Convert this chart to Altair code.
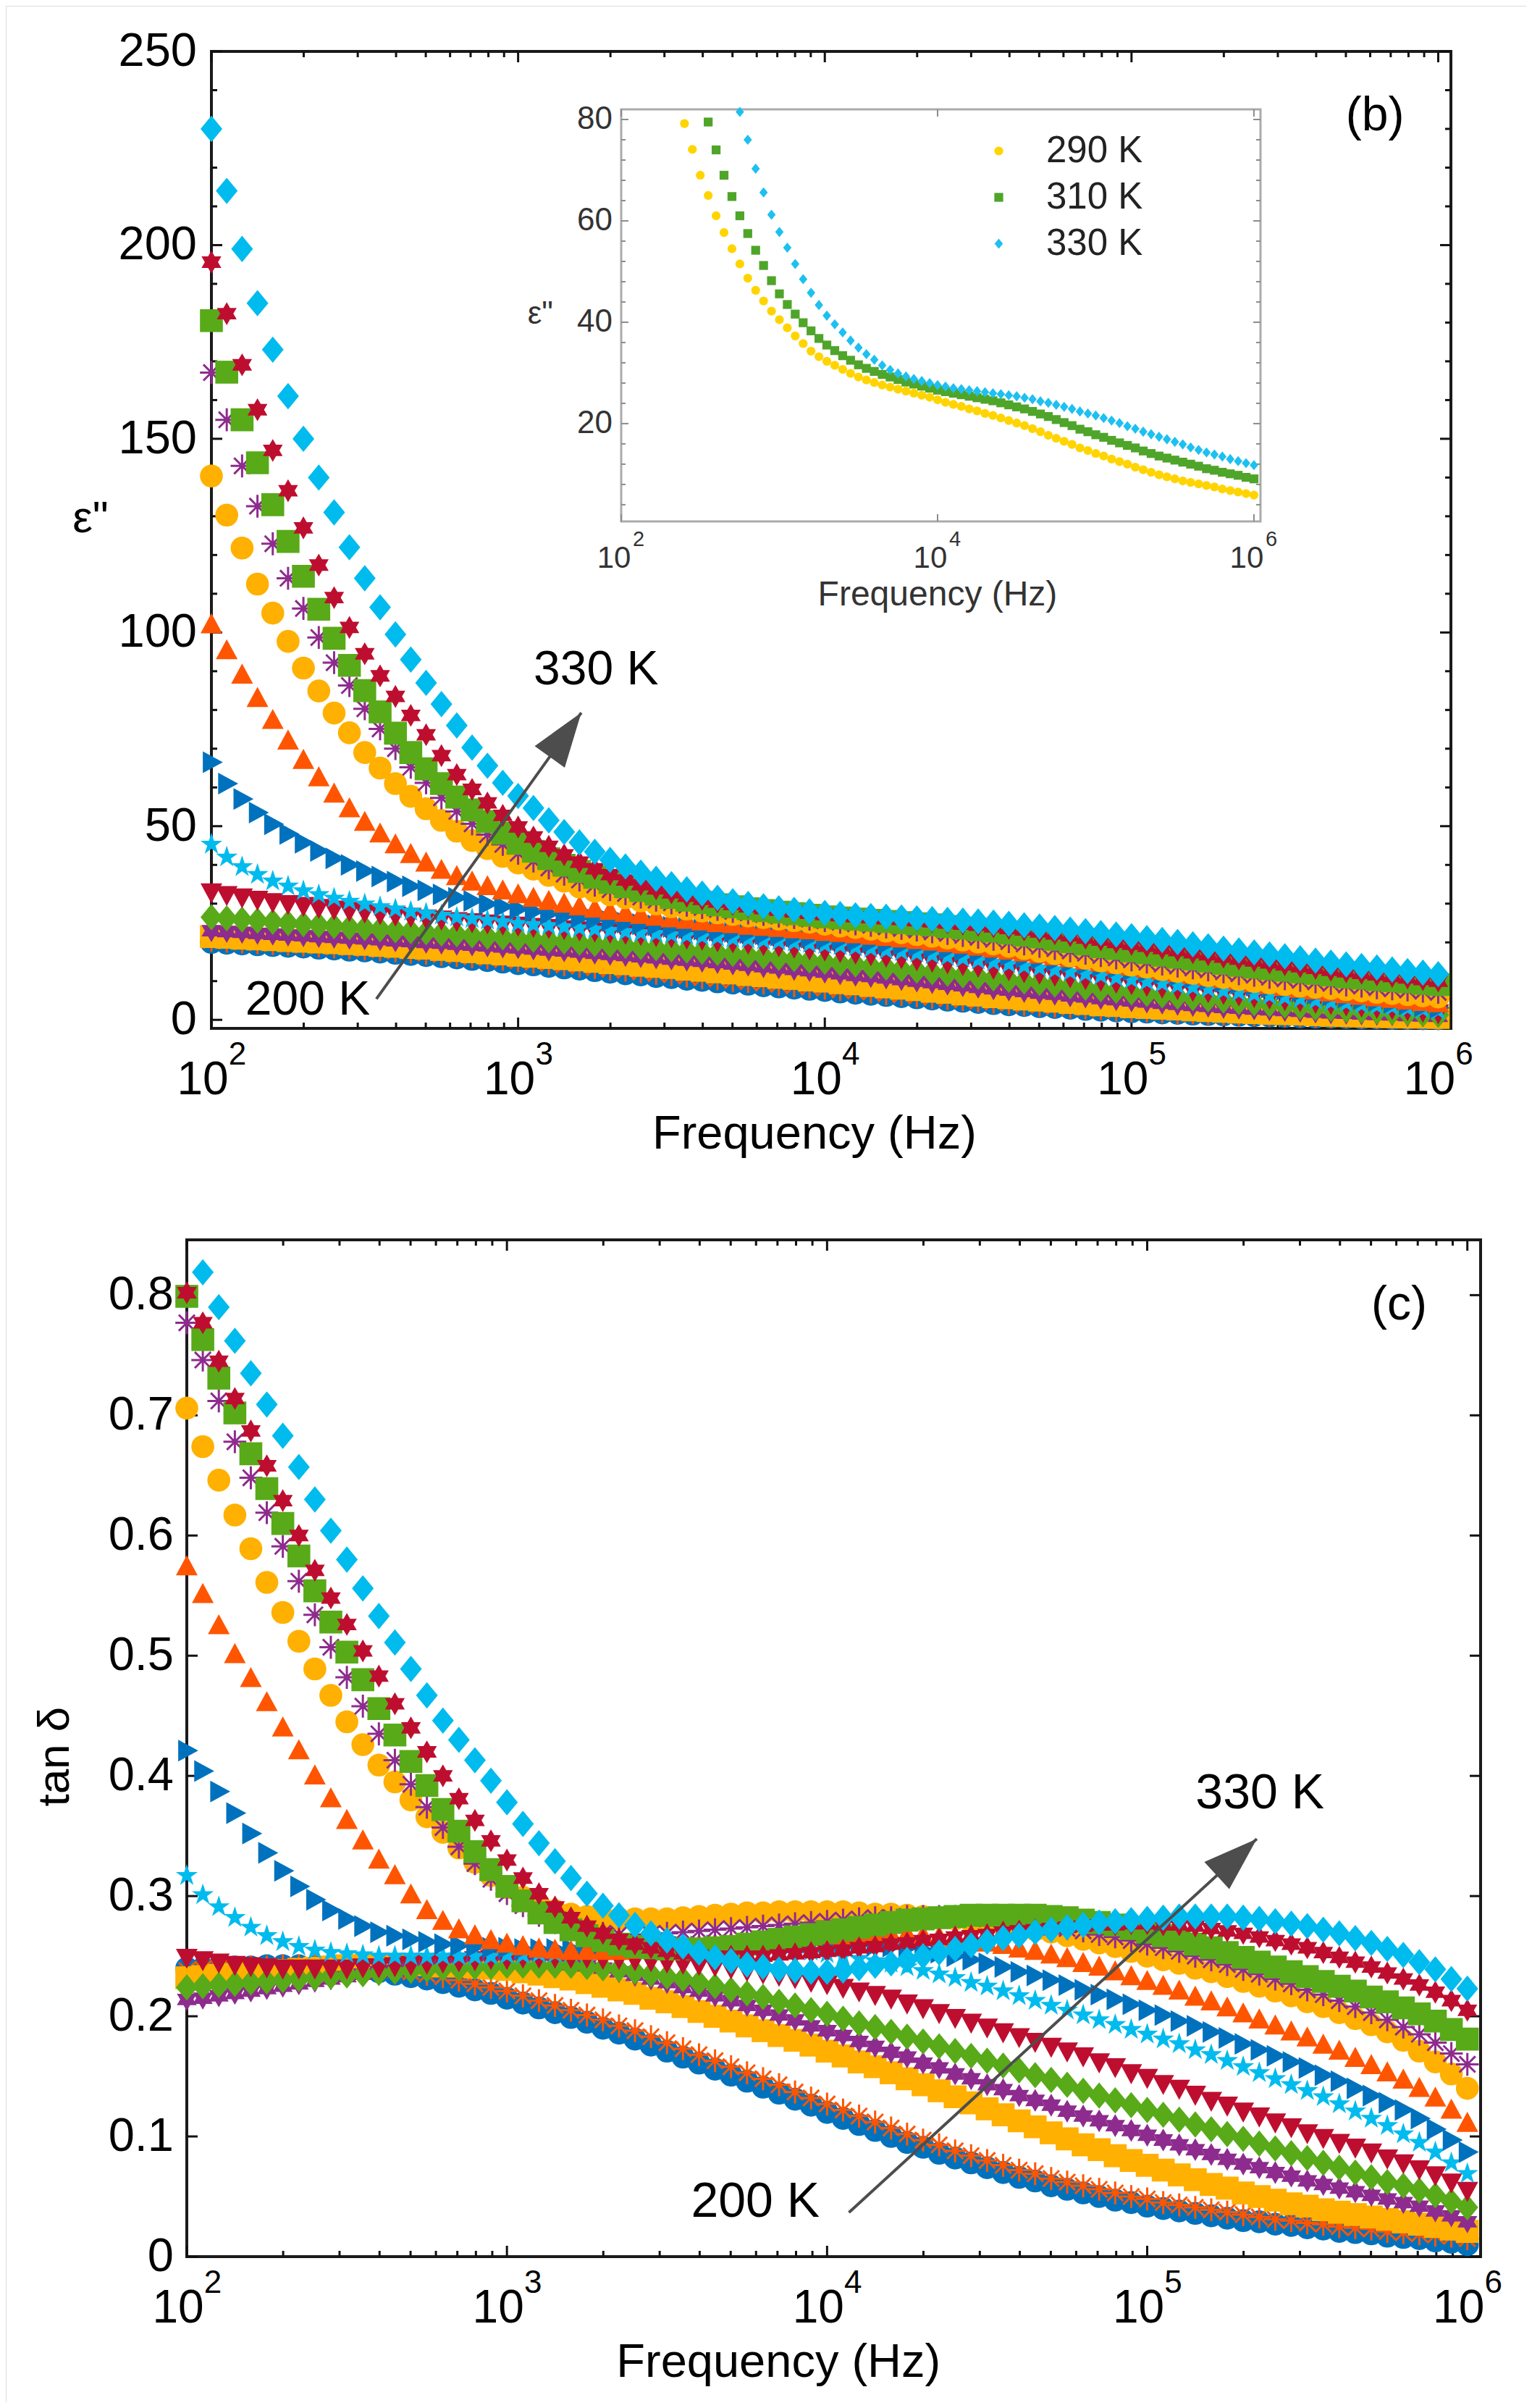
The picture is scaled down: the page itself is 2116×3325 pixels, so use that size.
import altair as alt
import pandas as pd

FONT = "Liberation Sans"

# ---------------- data ----------------
FREQ = [100, 112.2, 125.9, 141.3, 158.5, 177.8, 199.5, 223.9, 251.2, 281.8,
        316.2, 354.8, 398.1, 446.7, 501.2, 562.3, 631.0, 707.9, 794.3, 891.3,
        1000, 1122, 1259, 1413, 1585, 1778, 1995, 2239, 2512, 2818,
        3162, 3548, 3981, 4467, 5012, 5623, 6310, 7079, 7943, 8913,
        10000, 11220, 12590, 14130, 15850, 17780, 19950, 22390, 25120, 28180,
        31620, 35480, 39810, 44670, 50120, 56230, 63100, 70790, 79430, 89130,
        100000, 112200, 125900, 141300, 158500, 177800, 199500, 223900, 251200, 281800,
        316200, 354800, 398100, 446700, 501200, 562300, 631000, 707900, 794300, 891300,
        1000000]

TEMPS = ["200 K", "210 K", "220 K", "230 K", "240 K", "250 K", "260 K",
         "270 K", "280 K", "290 K", "300 K", "310 K", "320 K", "330 K"]

# epsilon'' (panel b)
EPS_200 = [20.0,19.8,19.6,19.4,19.2,19.0,18.8,18.5,18.3,18.0,
           17.8,17.5,17.2,16.9,16.6,16.3,16.0,15.6,15.3,14.9,
           14.5,14.2,13.8,13.4,13.1,12.7,12.3,11.9,11.6,11.2,
           10.9,10.5,10.2,9.8,9.5,9.2,8.8,8.5,8.2,7.9,
           7.6,7.2,6.9,6.6,6.3,6.0,5.7,5.4,5.1,4.8,
           4.5,4.2,3.9,3.7,3.4,3.2,3.0,2.7,2.5,2.3,
           2.1,2.0,1.8,1.7,1.5,1.4,1.3,1.2,1.1,1.0,
           0.9,0.8,0.7,0.7,0.6,0.5,0.5,0.4,0.4,0.3,
           0.3]
EPS_210 = [20.5,20.3,20.1,19.9,19.7,19.5,19.3,19.1,18.8,18.6,
           18.3,18.1,17.8,17.5,17.2,16.9,16.6,16.3,16.0,15.6,
           15.3,14.9,14.6,14.2,13.9,13.5,13.1,12.8,12.4,12.0,
           11.7,11.3,10.9,10.6,10.2,9.9,9.5,9.2,8.8,8.5,
           8.2,7.8,7.5,7.2,6.8,6.5,6.2,5.8,5.5,5.2,
           4.9,4.6,4.3,4.0,3.8,3.5,3.3,3.1,2.8,2.6,
           2.4,2.3,2.1,1.9,1.8,1.6,1.5,1.4,1.3,1.2,
           1.1,1.0,0.9,0.8,0.8,0.7,0.6,0.6,0.5,0.5,
           0.4]
EPS_220 = [21.5,21.3,21.1,20.9,20.7,20.5,20.3,20.1,19.9,19.7,
           19.5,19.2,19.0,18.7,18.5,18.2,17.9,17.6,17.3,17.0,
           16.7,16.4,16.1,15.8,15.5,15.1,14.8,14.5,14.1,13.8,
           13.5,13.1,12.8,12.4,12.1,11.7,11.4,11.0,10.7,10.3,
           10.0,9.6,9.3,8.9,8.5,8.2,7.8,7.4,7.1,6.7,
           6.4,6.0,5.7,5.4,5.1,4.8,4.5,4.2,3.9,3.7,
           3.4,3.2,3.0,2.8,2.6,2.4,2.2,2.0,1.9,1.7,
           1.6,1.5,1.3,1.2,1.1,1.0,0.9,0.8,0.7,0.7,
           0.6]
EPS_230 = [23.0,22.8,22.6,22.3,22.1,21.9,21.7,21.5,21.3,21.1,
           20.9,20.7,20.4,20.2,20.0,19.8,19.5,19.3,19.1,18.8,
           18.6,18.3,18.0,17.8,17.5,17.2,16.9,16.6,16.3,16.0,
           15.7,15.4,15.1,14.8,14.4,14.1,13.7,13.4,13.0,12.7,
           12.3,11.9,11.5,11.2,10.8,10.4,10.0,9.6,9.2,8.8,
           8.4,8.0,7.7,7.3,6.9,6.6,6.2,5.9,5.5,5.2,
           4.9,4.6,4.3,4.0,3.7,3.5,3.2,3.0,2.8,2.6,
           2.4,2.2,2.0,1.8,1.7,1.5,1.4,1.3,1.1,1.0,
           0.9]
EPS_240 = [26.5,26.2,25.9,25.6,25.3,25.0,24.7,24.5,24.2,23.9,
           23.7,23.4,23.1,22.9,22.6,22.3,22.1,21.8,21.5,21.3,
           21.0,20.7,20.5,20.2,19.9,19.6,19.4,19.1,18.8,18.5,
           18.2,17.9,17.6,17.3,17.0,16.7,16.4,16.0,15.7,15.3,
           15.0,14.6,14.3,13.9,13.5,13.1,12.7,12.3,11.9,11.5,
           11.1,10.7,10.3,9.9,9.5,9.1,8.7,8.3,7.9,7.5,
           7.1,6.7,6.3,6.0,5.6,5.3,5.0,4.6,4.3,4.0,
           3.7,3.4,3.1,2.9,2.6,2.4,2.2,2.0,1.8,1.5,
           1.3]
EPS_250 = [33.0,32.3,31.7,31.1,30.5,30.0,29.5,29.0,28.6,28.2,
           27.8,27.4,27.0,26.7,26.3,26.0,25.6,25.3,25.0,24.7,
           24.4,24.1,23.8,23.5,23.2,22.9,22.6,22.3,22.0,21.7,
           21.4,21.1,20.8,20.4,20.1,19.8,19.4,19.1,18.7,18.3,
           18.0,17.6,17.2,16.8,16.4,16.0,15.5,15.1,14.7,14.2,
           13.8,13.3,12.9,12.4,12.0,11.5,11.1,10.6,10.2,9.7,
           9.3,8.9,8.4,8.0,7.6,7.2,6.8,6.4,6.0,5.6,
           5.2,4.9,4.5,4.2,3.8,3.5,3.2,2.9,2.6,2.2,
           1.8]
EPS_260 = [45.3,42.0,39.5,37.5,35.8,34.5,33.3,32.3,31.4,30.6,
           29.9,29.2,28.6,28.0,27.5,27.0,26.5,26.1,25.7,25.3,
           24.9,24.6,24.3,24.0,23.7,23.4,23.1,22.8,22.5,22.3,
           22.0,21.8,21.5,21.3,21.0,20.8,20.5,20.3,20.0,19.7,
           19.4,19.1,18.8,18.4,18.0,17.6,17.2,16.8,16.3,15.9,
           15.4,14.9,14.4,13.9,13.4,12.9,12.4,11.9,11.4,10.9,
           10.4,9.9,9.4,8.9,8.4,8.0,7.5,7.1,6.6,6.2,
           5.8,5.4,5.0,4.6,4.3,3.9,3.6,3.3,3.0,2.7,
           2.4]
EPS_270 = [66.5,61.0,57.0,53.5,50.5,48.0,45.7,43.6,41.7,40.0,
           38.4,37.0,35.7,34.5,33.4,32.4,31.5,30.7,29.9,29.2,
           28.6,28.0,27.4,26.9,26.4,26.0,25.5,25.1,24.7,24.4,
           24.0,23.7,23.3,23.0,22.7,22.4,22.1,21.8,21.5,21.2,
           20.9,20.6,20.3,20.0,19.7,19.3,19.0,18.6,18.2,17.8,
           17.4,17.0,16.6,16.1,15.7,15.2,14.8,14.3,13.8,13.3,
           12.8,12.3,11.8,11.3,10.8,10.3,9.8,9.3,8.8,8.3,
           7.8,7.3,6.8,6.3,5.8,5.3,4.9,4.4,4.0,3.5,
           3.1]
EPS_280 = [102.0,95.3,89.0,83.0,77.3,72.0,67.0,62.5,58.3,54.5,
           51.0,48.0,45.2,42.7,40.5,38.6,37.0,35.6,34.4,33.3,
           32.3,31.4,30.6,29.9,29.2,28.6,28.0,27.5,27.0,26.5,
           26.1,25.7,25.3,24.9,24.6,24.2,23.9,23.6,23.3,23.0,
           22.6,22.3,22.0,21.6,21.3,20.9,20.5,20.1,19.7,19.3,
           18.8,18.3,17.8,17.3,16.8,16.3,15.8,15.2,14.7,14.1,
           13.6,13.1,12.6,12.0,11.5,11.0,10.5,10.0,9.4,8.9,
           8.4,7.9,7.5,7.0,6.5,6.1,5.7,5.3,4.9,4.5,
           4.2]
EPS_290 = [140.4,130.3,121.8,112.5,105.0,97.7,90.8,84.9,79.2,74.1,
           69.0,65.0,61.0,57.7,54.5,51.5,48.7,46.3,44.2,42.2,
           40.5,38.9,37.3,35.8,34.3,33.2,32.3,31.5,30.7,29.9,
           29.2,28.6,28.1,27.6,27.2,26.8,26.4,26.0,25.6,25.2,
           24.7,24.2,23.8,23.4,22.9,22.5,22.0,21.6,21.1,20.6,
           20.1,19.6,19.0,18.4,17.7,17.1,16.5,15.9,15.2,14.7,
           14.1,13.6,13.0,12.5,12.0,11.4,10.9,10.4,9.9,9.5,
           9.1,8.7,8.4,8.1,7.8,7.5,7.1,6.8,6.5,6.2,
           5.9]
EPS_300 = [167.1,154.9,143.0,132.6,122.9,114.0,106.2,98.7,92.2,86.3,
           80.3,75.1,70.0,65.2,61.2,57.3,53.8,50.6,47.8,45.3,
           43.0,41.0,39.2,37.6,36.1,34.8,33.6,32.6,31.7,30.9,
           30.2,29.6,29.0,28.5,28.0,27.6,27.2,26.8,26.4,26.0,
           25.6,25.2,24.8,24.4,24.0,23.6,23.2,22.7,22.3,21.8,
           21.3,20.8,20.2,19.6,19.0,18.4,17.8,17.2,16.6,16.0,
           15.5,14.9,14.4,13.9,13.4,12.9,12.4,11.9,11.5,11.0,
           10.6,10.2,9.8,9.4,9.0,8.7,8.3,8.0,7.7,7.4,
           7.1]
EPS_310 = [180.5,167.2,154.9,143.8,133.0,123.5,114.5,106.0,98.5,91.5,
           85.0,79.5,74.0,69.0,64.8,61.0,57.5,54.2,51.2,48.2,
           45.6,43.5,41.6,39.9,38.3,36.8,35.5,34.4,33.4,32.5,
           31.6,30.9,30.3,29.7,29.2,28.7,28.2,27.8,27.4,27.0,
           26.6,26.3,26.0,25.7,25.4,25.1,24.8,24.5,24.1,23.7,
           23.3,22.9,22.4,21.9,21.4,20.8,20.2,19.6,18.9,18.4,
           17.8,17.3,16.7,16.2,15.7,15.2,14.6,14.1,13.6,13.2,
           12.8,12.4,12.0,11.6,11.1,10.8,10.4,10.1,9.8,9.4,
           9.1]
EPS_320 = [195.6,182.3,169.1,157.5,147.0,136.6,127.0,117.4,109.0,101.3,
           94.5,88.8,83.5,78.6,73.6,68.2,63.3,59.5,56.0,52.8,
           49.8,47.2,44.8,42.6,40.7,39.0,37.5,36.1,34.9,33.8,
           32.8,31.9,31.1,30.4,29.8,29.2,28.7,28.3,27.9,27.5,
           27.2,26.9,26.6,26.4,26.1,25.9,25.6,25.3,25.0,24.7,
           24.4,24.0,23.6,23.2,22.7,22.2,21.7,21.1,20.6,20.0,
           19.5,19.0,18.4,17.9,17.3,16.8,16.2,15.7,15.2,14.7,
           14.2,13.7,13.3,12.8,12.4,12.0,11.6,11.2,10.8,10.4,
           10.0]
EPS_330 = [230.0,214.0,199.0,185.0,173.0,161.0,150.0,140.0,131.0,122.0,
           114.0,106.5,99.5,93.0,87.0,81.5,76.0,70.3,65.6,61.2,
           57.8,54.7,51.5,48.5,45.8,43.4,41.3,39.6,38.0,36.4,
           35.0,33.7,32.6,31.5,30.6,29.9,29.3,28.8,28.4,28.0,
           27.6,27.3,27.0,26.8,26.6,26.4,26.2,26.0,25.8,25.6,
           25.4,25.1,24.8,24.4,24.1,23.7,23.3,22.9,22.4,22.0,
           21.6,21.1,20.6,20.1,19.5,19.0,18.4,17.9,17.4,16.9,
           16.4,15.9,15.3,14.8,14.3,13.9,13.5,13.0,12.6,12.2,
           11.8]

# tan delta (panel c)
TAN_200 = [.240,.240,.241,.241,.241,.242,.242,.242,.241,.241,
           .240,.239,.237,.235,.233,.231,.228,.225,.222,.219,
           .215,.211,.207,.203,.199,.195,.190,.186,.181,.176,
           .171,.166,.161,.156,.151,.146,.141,.136,.131,.126,
           .120,.115,.110,.105,.100,.095,.091,.086,.082,.078,
           .074,.070,.066,.063,.059,.056,.053,.050,.047,.045,
           .042,.040,.038,.036,.034,.032,.030,.029,.027,.026,
           .024,.023,.021,.020,.019,.017,.016,.015,.013,.012,
           .010]
TAN_210 = [.238,.239,.240,.240,.241,.241,.242,.242,.242,.242,
           .242,.241,.240,.239,.237,.235,.233,.230,.227,.224,
           .221,.217,.213,.209,.205,.201,.197,.192,.188,.183,
           .178,.173,.168,.163,.158,.153,.148,.143,.137,.132,
           .127,.122,.117,.112,.107,.102,.097,.093,.088,.084,
           .080,.076,.072,.069,.065,.062,.059,.056,.053,.050,
           .048,.045,.043,.041,.039,.037,.035,.033,.031,.030,
           .028,.027,.025,.024,.023,.021,.020,.019,.018,.017,
           .015]
TAN_220 = [.232,.233,.234,.235,.236,.237,.238,.239,.240,.241,
           .242,.242,.243,.243,.243,.243,.242,.242,.241,.240,
           .239,.237,.235,.233,.231,.228,.225,.222,.219,.215,
           .212,.208,.204,.200,.196,.192,.188,.184,.180,.176,
           .171,.167,.162,.158,.153,.148,.143,.138,.133,.128,
           .123,.118,.113,.108,.103,.098,.093,.089,.084,.080,
           .076,.072,.068,.064,.060,.057,.053,.050,.047,.044,
           .042,.039,.037,.035,.033,.031,.029,.027,.025,.023,
           .021]
TAN_230 = [.214,.215,.217,.219,.221,.223,.225,.227,.229,.231,
           .233,.235,.237,.238,.240,.241,.242,.243,.244,.245,
           .245,.245,.245,.244,.243,.242,.240,.237,.234,.231,
           .228,.224,.221,.217,.213,.209,.205,.201,.197,.192,
           .188,.184,.179,.175,.170,.166,.161,.157,.152,.148,
           .143,.139,.134,.130,.126,.121,.117,.113,.109,.105,
           .101,.097,.093,.089,.085,.081,.077,.074,.070,.067,
           .063,.060,.057,.054,.051,.048,.045,.042,.038,.034,
           .029]
TAN_240 = [.224,.225,.226,.227,.228,.229,.230,.231,.232,.233,
           .234,.235,.236,.237,.238,.239,.240,.240,.241,.241,
           .242,.242,.242,.242,.242,.241,.240,.239,.237,.235,
           .233,.231,.228,.225,.222,.219,.216,.212,.209,.205,
           .202,.198,.194,.191,.187,.183,.179,.175,.171,.167,
           .163,.159,.155,.151,.147,.143,.138,.134,.130,.126,
           .122,.118,.114,.110,.106,.102,.098,.094,.090,.086,
           .082,.078,.074,.070,.066,.062,.059,.055,.051,.046,
           .041]
TAN_250 = [.249,.247,.245,.243,.242,.241,.240,.240,.240,.240,
           .240,.241,.241,.242,.243,.244,.245,.246,.247,.248,
           .248,.249,.249,.249,.249,.249,.248,.248,.247,.246,
           .245,.244,.243,.242,.240,.238,.236,.234,.232,.229,
           .227,.224,.221,.218,.215,.211,.207,.203,.199,.195,
           .191,.187,.183,.179,.175,.171,.167,.162,.158,.153,
           .149,.144,.140,.135,.130,.126,.121,.117,.112,.108,
           .103,.099,.095,.091,.087,.082,.078,.073,.068,.062,
           .055]
TAN_260 = [.317,.301,.291,.282,.274,.267,.262,.258,.255,.253,
           .252,.251,.250,.250,.250,.250,.250,.250,.250,.250,
           .251,.251,.252,.252,.253,.253,.254,.254,.255,.255,
           .256,.256,.256,.257,.257,.257,.256,.256,.255,.254,
           .252,.250,.248,.246,.244,.241,.238,.235,.232,.228,
           .225,.221,.217,.213,.209,.205,.201,.197,.193,.189,
           .185,.181,.177,.172,.168,.163,.158,.153,.148,.143,
           .138,.133,.127,.121,.115,.109,.102,.095,.087,.078,
           .069]
TAN_270 = [.421,.404,.387,.369,.352,.336,.321,.308,.297,.288,
           .281,.275,.270,.267,.264,.262,.260,.259,.258,.257,
           .257,.256,.256,.256,.256,.256,.256,.256,.256,.257,
           .257,.258,.258,.259,.259,.260,.260,.261,.261,.261,
           .261,.261,.260,.259,.258,.257,.255,.253,.250,.247,
           .244,.241,.237,.234,.230,.226,.222,.218,.214,.210,
           .205,.201,.196,.192,.187,.182,.177,.172,.167,.162,
           .157,.151,.146,.140,.134,.128,.122,.115,.106,.097,
           .087]
TAN_280 = [.574,.551,.525,.501,.481,.461,.440,.421,.400,.381,
           .363,.346,.330,.317,.301,.288,.279,.272,.267,.263,
           .260,.258,.256,.255,.254,.254,.254,.254,.255,.256,
           .257,.258,.259,.260,.261,.262,.263,.264,.265,.266,
           .267,.267,.268,.268,.268,.268,.267,.266,.265,.263,
           .261,.259,.256,.254,.251,.248,.244,.241,.237,.233,
           .229,.225,.221,.216,.212,.207,.202,.197,.192,.187,
           .182,.176,.171,.165,.159,.153,.147,.140,.132,.122,
           .111]
TAN_290 = [.706,.674,.646,.617,.589,.561,.536,.512,.489,.467,
           .445,.426,.409,.395,.380,.366,.353,.340,.328,.317,
           .307,.299,.293,.288,.285,.283,.282,.281,.281,.281,
           .281,.282,.283,.284,.285,.286,.286,.287,.287,.287,
           .287,.287,.286,.285,.285,.284,.283,.282,.281,.279,
           .278,.276,.274,.272,.270,.267,.264,.261,.258,.254,
           .250,.247,.244,.240,.237,.233,.229,.225,.221,.217,
           .212,.208,.203,.198,.193,.187,.180,.171,.162,.152,
           .140]
TAN_300 = [.777,.746,.712,.678,.648,.619,.591,.562,.534,.507,
           .482,.458,.435,.413,.393,.374,.357,.341,.327,.314,
           .302,.292,.284,.278,.274,.271,.269,.268,.268,.268,
           .269,.270,.271,.272,.273,.274,.275,.276,.277,.278,
           .279,.280,.281,.282,.282,.283,.283,.283,.283,.282,
           .281,.280,.279,.277,.275,.273,.271,.268,.266,.263,
           .260,.257,.254,.250,.247,.243,.239,.235,.231,.227,
           .222,.218,.213,.208,.203,.197,.191,.185,.178,.169,
           .160]
TAN_310 = [.799,.763,.731,.702,.668,.639,.610,.583,.554,.528,
           .503,.480,.456,.434,.412,.392,.372,.354,.337,.322,
           .308,.296,.286,.278,.272,.267,.263,.260,.258,.257,
           .256,.256,.256,.257,.258,.260,.262,.264,.266,.268,
           .270,.272,.274,.276,.278,.280,.281,.282,.283,.284,
           .284,.284,.284,.284,.283,.282,.280,.278,.276,.273,
           .270,.267,.264,.260,.257,.253,.249,.245,.241,.237,
           .233,.229,.225,.221,.216,.212,.207,.202,.196,.189,
           .181]
TAN_320 = [.802,.777,.745,.714,.687,.658,.629,.600,.571,.548,
           .526,.504,.483,.460,.440,.420,.400,.381,.363,.346,
           .330,.315,.302,.291,.282,.275,.269,.264,.260,.257,
           .254,.252,.251,.250,.250,.250,.250,.251,.252,.253,
           .254,.255,.257,.258,.260,.261,.263,.264,.266,.267,
           .268,.270,.271,.272,.273,.274,.275,.276,.276,.277,
           .277,.276,.276,.275,.273,.271,.269,.266,.263,.260,
           .257,.253,.249,.245,.241,.236,.231,.226,.220,.213,
           .205]
TAN_330 = [None,.819,.790,.762,.735,.709,.683,.657,.630,.604,
           .580,.556,.533,.511,.489,.467,.446,.430,.413,.396,
           .378,.360,.344,.329,.315,.302,.292,.284,.276,.269,
           .263,.258,.253,.249,.246,.243,.241,.239,.238,.237,
           .237,.238,.240,.242,.244,.247,.250,.253,.256,.259,
           .262,.265,.267,.270,.272,.274,.276,.278,.279,.280,
           .281,.282,.283,.283,.283,.283,.282,.281,.279,.277,
           .275,.272,.269,.265,.261,.256,.251,.245,.239,.231,
           .223]

EPS_SERIES = [EPS_200, EPS_210, EPS_220, EPS_230, EPS_240, EPS_250, EPS_260,
              EPS_270, EPS_280, EPS_290, EPS_300, EPS_310, EPS_320, EPS_330]
TAN_SERIES = [TAN_200, TAN_210, TAN_220, TAN_230, TAN_240, TAN_250, TAN_260,
              TAN_270, TAN_280, TAN_290, TAN_300, TAN_310, TAN_320, TAN_330]
for s in EPS_SERIES + TAN_SERIES:
    assert len(s) == len(FREQ), len(s)

INSET_TEMPS = ["290 K", "310 K", "330 K"]
INSET_SERIES = [EPS_290, EPS_310, EPS_330]

Y_TICKS_B = [0, 50, 100, 150, 200, 250]
Y_TICKS_C = [0, 0.1, 0.2, 0.3, 0.4, 0.5, 0.6, 0.7, 0.8]
Y_LABELS_C = ["0", "0.1", "0.2", "0.3", "0.4", "0.5", "0.6", "0.7", "0.8"]
Y_TICKS_INSET = [20, 40, 60, 80]
X_DECADES = [1e2, 1e3, 1e4, 1e5, 1e6]
X_EXPONENTS = ["2", "3", "4", "5", "6"]

# ---------------- styles / layout ----------------
BLUE, ORANGE, YELLOW, PURPLE = "#0072BD", "#FF5500", "#FFB000", "#8E2B8E"
GREEN, CRIMSON, CYAN = "#58AA19", "#BE0E30", "#00BBEE"
INSET_COLORS = ["#FFD400", "#4FA52A", "#1EC0F0"]

DIAMOND = "M0,-1.15L0.95,0L0,1.15L-0.95,0Z"
HEXAGRAM = ("M0,-1L0.289,-0.5L0.866,-0.5L0.577,0L0.866,0.5L0.289,0.5L0,1"
            "L-0.289,0.5L-0.866,0.5L-0.577,0L-0.866,-0.5L-0.289,-0.5Z")
PENTAGRAM = ("M0,-1L0.225,-0.309L0.951,-0.309L0.363,0.118L0.588,0.809L0,0.382"
             "L-0.588,0.809L-0.363,0.118L-0.951,-0.309L-0.225,-0.309Z")
ASTERISK = "M0,-1L0,1M-1,0L1,0M-0.7,-0.7L0.7,0.7M-0.7,0.7L0.7,-0.7"
TRI_UP = "M0,-1L0.95,0.75L-0.95,0.75Z"
TRI_DOWN = "M0,1L0.95,-0.75L-0.95,-0.75Z"
TRI_RIGHT = "M1,0L-0.75,0.95L-0.75,-0.95Z"
ARROW_HEAD = "M0,0L0.34,1L-0.34,1Z"

STYLE = [
    (BLUE, "circle", True), (ORANGE, ASTERISK, False), (YELLOW, "square", True),
    (PURPLE, HEXAGRAM, True), (GREEN, DIAMOND, True), (CRIMSON, TRI_DOWN, True),
    (CYAN, PENTAGRAM, True), (BLUE, TRI_RIGHT, True), (ORANGE, TRI_UP, True),
    (YELLOW, "circle", True), (PURPLE, ASTERISK, False), (GREEN, "square", True),
    (CRIMSON, HEXAGRAM, True), (CYAN, DIAMOND, True),
]
MSIZE = 1000

X_DOM = [100, 1.1e6]
YB_DOM = [-2.2, 250]
YC_DOM = [0, 0.846]
YI_DOM = [0.7, 82]
XS_B = alt.Scale(type="log", domain=X_DOM, range=[284, 1996], nice=False)
YS_B = alt.Scale(domain=YB_DOM, range=[1412, 63], zero=False, nice=False)
XS_C = alt.Scale(type="log", domain=X_DOM, range=[250, 2037], nice=False)
YS_C = alt.Scale(domain=YC_DOM, range=[3108, 1704], zero=False, nice=False)
XS_I = alt.Scale(type="log", domain=X_DOM, range=[850, 1733], nice=False)
YS_I = alt.Scale(domain=YI_DOM, range=[712, 143], zero=False, nice=False)

TICK_L, TICK_R = "M0,0L1,0", "M0,0L-1,0"
TICK_B, TICK_T = "M0,0L0,-1", "M0,0L0,1"


def pos(xs, ys):
    return dict(x=alt.X("x:Q", scale=xs, axis=None), y=alt.Y("y:Q", scale=ys, axis=None))


def frame(xs, ys, ydom, color, width):
    df = pd.DataFrame({"x": [X_DOM[0]], "x2": [X_DOM[1]], "y": [ydom[0]], "y2": [ydom[1]]})
    return alt.Chart(df).mark_rect(fillOpacity=0, stroke=color, strokeWidth=width).encode(
        **pos(xs, ys), x2="x2:Q", y2="y2:Q")


def tick_layer(xv, yv, shape, size, xs, ys, color, sw):
    df = pd.DataFrame({"x": xv, "y": yv})
    return alt.Chart(df).mark_point(shape=shape, size=size, filled=False, color=color,
                                    strokeWidth=sw, opacity=1).encode(**pos(xs, ys))


def panel_ticks(xs, ys, ydom, ymaj, ymin, xmaj, xmin, color, sw, big, small):
    out = []
    for vals, sz in ((ymaj, big), (ymin, small)):
        if vals:
            out.append(tick_layer([X_DOM[0]] * len(vals), vals, TICK_L, sz, xs, ys, color, sw))
            out.append(tick_layer([X_DOM[1]] * len(vals), vals, TICK_R, sz, xs, ys, color, sw))
    for vals, sz in ((xmaj, big), (xmin, small)):
        if vals:
            out.append(tick_layer(vals, [ydom[0]] * len(vals), TICK_B, sz, xs, ys, color, sw))
            out.append(tick_layer(vals, [ydom[1]] * len(vals), TICK_T, sz, xs, ys, color, sw))
    return out


def texts(xv, yv, tv, xs, ys, **kw):
    df = pd.DataFrame({"x": xv, "y": yv, "t": tv})
    return alt.Chart(df).mark_text(font=FONT, **kw).encode(**pos(xs, ys), text="t:N")


def arrow(x0, y0, x1, y1, angle, xs, ys):
    col = "#4D4D4D"
    ldf = pd.DataFrame({"x": [x0], "y": [y0], "x2": [x1], "y2": [y1]})
    line = alt.Chart(ldf).mark_rule(color=col, strokeWidth=4).encode(
        **pos(xs, ys), x2="x2:Q", y2="y2:Q")
    hdf = pd.DataFrame({"x": [x1], "y": [y1]})
    head = alt.Chart(hdf).mark_point(shape=ARROW_HEAD, size=22500, filled=True, color=col,
                                     opacity=1, angle=angle).encode(**pos(xs, ys))
    return [line, head]


def series_layers(series, xs, ys):
    out = []
    for (color, shape, filled), vals in zip(STYLE, series):
        df = pd.DataFrame({"x": FREQ, "y": vals})
        if filled:
            mk = alt.Chart(df).mark_point(shape=shape, filled=True, color=color, size=MSIZE, opacity=1)
        else:
            mk = alt.Chart(df).mark_point(shape=shape, filled=False, color=color, size=MSIZE,
                                          opacity=1, strokeWidth=3)
        out.append(mk.encode(**pos(xs, ys)))
    return out


X_MINOR = [m * d for d in (1e2, 1e3, 1e4, 1e5) for m in range(2, 10)]
YB_MINOR = [v for v in range(10, 250, 10) if v % 50]
YI_MINOR = [v for v in range(4, 81, 4) if v % 20]

# ---------------- panel (b) ----------------
b_layers = [frame(XS_B, YS_B, YB_DOM, "#1a1a1a", 4)]
b_layers += panel_ticks(XS_B, YS_B, YB_DOM, Y_TICKS_B, YB_MINOR, X_DECADES, X_MINOR,
                        "#111111", 3, 900, 256)
b_layers += series_layers(EPS_SERIES, XS_B, YS_B)
b_layers += [
    texts([100] * 6, Y_TICKS_B, [str(v) for v in Y_TICKS_B], XS_B, YS_B,
          align="right", baseline="middle", dx=-20, fontSize=65, color="black"),
    texts(X_DECADES, [YB_DOM[0]] * 5, ["10"] * 5, XS_B, YS_B,
          align="center", baseline="middle", dx=-12, dy=72, fontSize=64, color="black"),
    texts(X_DECADES, [YB_DOM[0]] * 5, X_EXPONENTS, XS_B, YS_B,
          align="center", baseline="middle", dx=36, dy=37, fontSize=44, color="black"),
    texts([9250], [YB_DOM[0]], ["Frequency (Hz)"], XS_B, YS_B,
          align="center", baseline="middle", dy=146, fontSize=65, color="black"),
    texts([100], [129.4], ['ε"'], XS_B, YS_B,
          align="center", baseline="middle", dx=-167, fontSize=62, color="black"),
    texts([622000], [233.3], ["(b)"], XS_B, YS_B,
          align="center", baseline="middle", fontSize=66, color="black"),
    texts([1795, 206], [90.3, 5.0], ["330 K", "200 K"], XS_B, YS_B,
          align="center", baseline="middle", fontSize=66, color="black"),
]
b_layers += arrow(345, 5.4, 1607, 79.3, 35.6, XS_B, YS_B)

# ---------------- inset ----------------
ins_rows = []
for T, vals in zip(INSET_TEMPS, INSET_SERIES):
    for f, v in zip(FREQ, vals):
        if v <= YI_DOM[1]:
            ins_rows.append({"x": f, "y": v, "T": T})
ins_df = pd.DataFrame(ins_rows)
legend = alt.Legend(orient="none", legendX=1346, legendY=175, title=None,
                    labelFontSize=51, labelFont=FONT, labelColor="#222222",
                    symbolSize=150, labelOffset=40, rowPadding=12, padding=0,
                    symbolStrokeWidth=0)
ins_points = alt.Chart(ins_df).mark_point(filled=True, size=150, opacity=1).encode(
    **pos(XS_I, YS_I),
    color=alt.Color("T:N", scale=alt.Scale(domain=INSET_TEMPS, range=INSET_COLORS), legend=legend),
    shape=alt.Shape("T:N", scale=alt.Scale(domain=INSET_TEMPS, range=["circle", "square", DIAMOND]),
                    legend=legend),
)
i_layers = [frame(XS_I, YS_I, YI_DOM, "#ABABAB", 3)]
i_layers += panel_ticks(XS_I, YS_I, YI_DOM, Y_TICKS_INSET, YI_MINOR, [1e2, 1e4, 1e6], [],
                        "#8C8C8C", 2, 400, 144)
i_layers += [ins_points]
i_layers += [
    texts([100] * 4, Y_TICKS_INSET, [str(v) for v in Y_TICKS_INSET], XS_I, YS_I,
          align="right", baseline="middle", dx=-12, fontSize=44, color="#333333"),
    texts([1e2, 1e4, 1e6], [YI_DOM[0]] * 3, ["10"] * 3, XS_I, YS_I,
          align="center", baseline="middle", dx=-10, dy=51, fontSize=42, color="#333333"),
    texts([1e2, 1e4, 1e6], [YI_DOM[0]] * 3, ["2", "4", "6"], XS_I, YS_I,
          align="center", baseline="middle", dx=24, dy=25, fontSize=29, color="#333333"),
    texts([1e4], [YI_DOM[0]], ["Frequency (Hz)"], XS_I, YS_I,
          align="center", baseline="middle", dy=102, fontSize=48, color="#333333"),
    texts([30.8], [41.6], ['ε"'], XS_I, YS_I,
          align="center", baseline="middle", fontSize=44, color="#333333"),
]

# ---------------- panel (c) ----------------
c_layers = [frame(XS_C, YS_C, YC_DOM, "#1a1a1a", 4)]
c_layers += panel_ticks(XS_C, YS_C, YC_DOM, Y_TICKS_C, [], X_DECADES, X_MINOR,
                        "#111111", 3, 900, 256)
c_layers += series_layers(TAN_SERIES, XS_C, YS_C)
c_layers += [
    texts([100] * 9, Y_TICKS_C, Y_LABELS_C, XS_C, YS_C,
          align="right", baseline="middle", dx=-18, fontSize=65, color="black"),
    texts(X_DECADES, [YC_DOM[0]] * 5, ["10"] * 5, XS_C, YS_C,
          align="center", baseline="middle", dx=-12, dy=72, fontSize=64, color="black"),
    texts(X_DECADES, [YC_DOM[0]] * 5, X_EXPONENTS, XS_C, YS_C,
          align="center", baseline="middle", dx=36, dy=37, fontSize=44, color="black"),
    texts([7050], [YC_DOM[0]], ["Frequency (Hz)"], XS_C, YS_C,
          align="center", baseline="middle", dy=146, fontSize=65, color="black"),
    texts([38.7], [0.416], ["tan δ"], XS_C, YS_C,
          align="center", baseline="middle", angle=270, fontSize=62, color="black"),
    texts([612000], [0.7916], ["(c)"], XS_C, YS_C,
          align="center", baseline="middle", fontSize=66, color="black"),
    texts([224900, 5970], [0.385, 0.045], ["330 K", "200 K"], XS_C, YS_C,
          align="center", baseline="middle", fontSize=68, color="black"),
]
c_layers += arrow(11700, 0.0367, 220000, 0.3476, 47.5, XS_C, YS_C)

chart = (
    alt.layer(alt.layer(*b_layers), alt.layer(*i_layers), alt.layer(*c_layers))
    .resolve_scale(x="independent", y="independent")
    .properties(width=2100, height=3309, padding=0, autosize=alt.AutoSizeParams(type="none"))
    .configure_view(strokeWidth=0)
    .configure(background="white")
)

chart.save("out.html", embed_options={"renderer": "svg", "actions": False})
